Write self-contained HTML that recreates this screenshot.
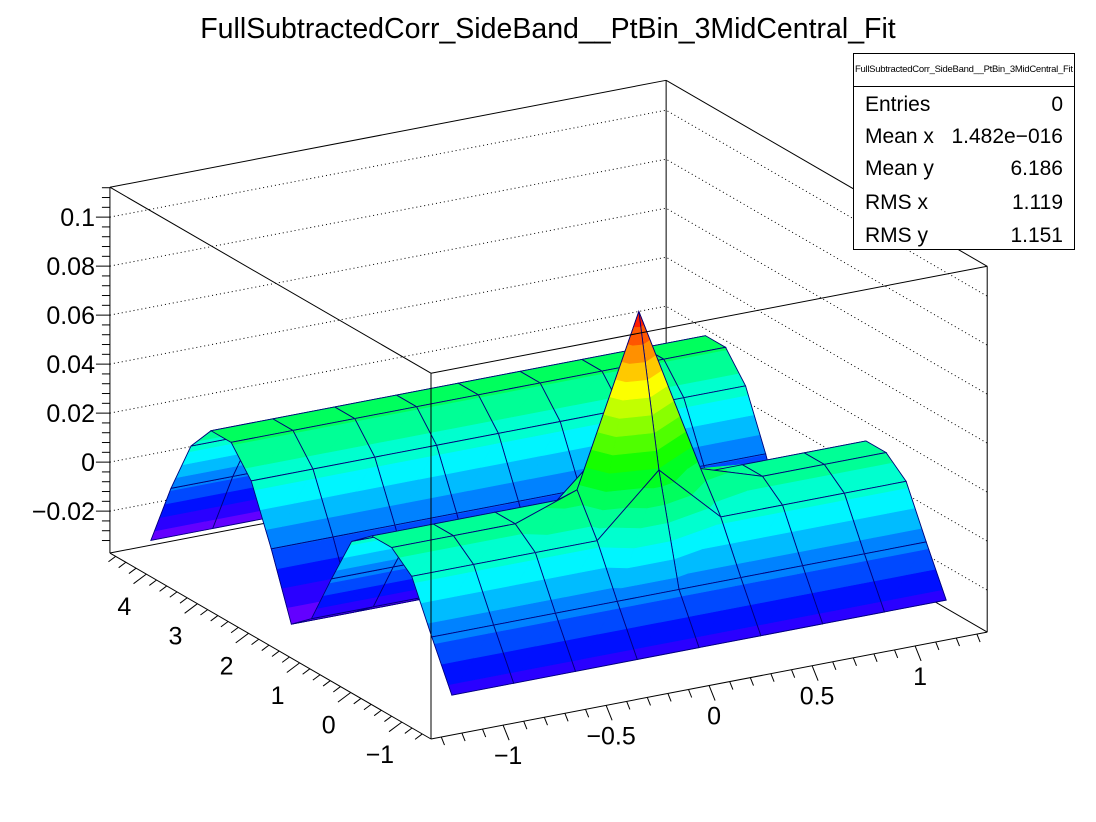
<!DOCTYPE html>
<html><head><meta charset="utf-8"><style>
html,body{margin:0;padding:0;background:#fff;}
svg{display:block;font-family:"Liberation Sans",Arial,sans-serif;}
</style></head><body>
<svg id="chart" width="1096" height="822" viewBox="0 0 1096 822" xmlns="http://www.w3.org/2000/svg">
<rect x="0" y="0" width="1096" height="822" fill="#fff"/>
<text x="548" y="38" font-size="28.5" text-anchor="middle">FullSubtractedCorr_SideBand__PtBin_3MidCentral_Fit</text>
<g id="grid"></g>
<g id="box-back"></g>
<g id="surface"></g>
<g id="box-front"></g>
<g id="axes"></g>
<g>
<rect x="853.5" y="53.5" width="221" height="196" fill="#fff" stroke="#000" stroke-width="1"/>
<line x1="853.5" y1="86.5" x2="1074.5" y2="86.5" stroke="#000"/>
<text x="964" y="72" font-size="9.5" text-anchor="middle" textLength="218">FullSubtractedCorr_SideBand__PtBin_3MidCentral_Fit</text>
<g font-size="21">
<text x="865" y="111">Entries</text>
<text x="1063" y="111" text-anchor="end">0</text>
<text x="865" y="143">Mean x</text>
<text x="1063" y="143" text-anchor="end">1.482e−016</text>
<text x="865" y="175">Mean y</text>
<text x="1063" y="175" text-anchor="end">6.186</text>
<text x="865" y="209">RMS x</text>
<text x="1063" y="209" text-anchor="end">1.119</text>
<text x="865" y="242">RMS y</text>
<text x="1063" y="242" text-anchor="end">1.151</text>
</g></g>
</svg>
<script>
const xCenters = [-1.2,-0.9,-0.6,-0.3,0,0.3,0.6,0.9,1.2];
const yCenters = [-1.374,-0.982,-0.589,-0.196,0.196,0.589,0.982,1.374,1.767,2.160,2.553,2.945,3.338,3.731,4.123,4.516];
const ridgeProfile = [-0.024,-0.005,0.015,0.022,0.022,0.015,-0.005,-0.026,-0.033,-0.007,0.016,0.027,0.027,0.016,-0.006,-0.032];
const peakCells = [[4,3,0.099],[4,2,0.039],[3,3,0.031],[5,3,0.030],[4,4,0.045]];
const xTicks = [-1,-0.5,0,0.5,1];
const xTickLabels = ["−1","−0.5","0","0.5","1"];
const yTicks = [-1,0,1,2,3,4];
const yTickLabels = ["−1","0","1","2","3","4"];
const zTicks = [-0.02,0,0.02,0.04,0.06,0.08,0.1];
const zTickLabels = ["−0.02","0","0.02","0.04","0.06","0.08","0.1"];

const XMIN=-1.35,XMAX=1.35,YMIN=-1.5708,YMAX=4.7124,ZMIN=-0.0371,ZMAX=0.1122;
const NS="http://www.w3.org/2000/svg";
function P(x,y,z){
  const a=x-XMIN,b=y-YMIN;
  return [431+a*206-b*51.1, 739-a*39.6-b*29.6-(z-ZMIN)*2450];
}
function mk(tag,attrs,parent){const e=document.createElementNS(NS,tag);for(const k in attrs)e.setAttribute(k,attrs[k]);parent.appendChild(e);return e;}

const Z = yCenters.map((y,iy)=>xCenters.map(()=>ridgeProfile[iy]));
peakCells.forEach(c=>{Z[c[1]][c[0]]=c[2];});

const gB=document.getElementById('box-back');
function seg(p,q,g){return mk('line',{x1:p[0],y1:p[1],x2:q[0],y2:q[1],stroke:'#000','stroke-width':1},g);}
const c000=P(XMIN,YMIN,ZMIN),c100=P(XMAX,YMIN,ZMIN),c010=P(XMIN,YMAX,ZMIN),c110=P(XMAX,YMAX,ZMIN);
const c001=P(XMIN,YMIN,ZMAX),c101=P(XMAX,YMIN,ZMAX),c011=P(XMIN,YMAX,ZMAX),c111=P(XMAX,YMAX,ZMAX);
let l;
l=seg(c010,c110,gB);
l=seg(c110,c100,gB);
l=seg(c110,c111,gB);
l=seg(c010,c011,gB);
l=seg(c100,c101,gB);
l=seg(c011,c111,gB);
l=seg(c111,c101,gB);
l=seg(c010,c000,gB);
l=seg(c000,c100,gB);

const gG=document.getElementById('grid');
zTicks.forEach(z=>{
  const a=P(XMIN,YMAX,z),b=P(XMAX,YMAX,z),c=P(XMAX,YMIN,z);
  const pl=mk('polyline',{points:a.join(',')+' '+b.join(',')+' '+c.join(','),fill:'none',stroke:'#000','stroke-width':1,'stroke-dasharray':'1,3'},gG);
  
  
});

const NB=20, ZLO=-0.034, ZHI=0.1;
function bandColor(k){const h=270*(1-(k+0.5)/NB);return 'hsl('+h.toFixed(1)+',100%,50%)';}
function clip(poly,lev,above){
  const out=[];
  for(let i=0;i<poly.length;i++){
    const p=poly[i],q=poly[(i+1)%poly.length];
    const pin=above?p.z>=lev:p.z<=lev, qin=above?q.z>=lev:q.z<=lev;
    if(pin)out.push(p);
    if(pin!==qin){const t=(lev-p.z)/(q.z-p.z);out.push({x:p.x+(q.x-p.x)*t,y:p.y+(q.y-p.y)*t,z:lev});}
  }
  return out;
}
const gS=document.getElementById('surface');
function V(ix,iy){const z=Z[iy][ix];const s=P(xCenters[ix],yCenters[iy],z);return {x:s[0],y:s[1],z:z};}
function drawTri(tri,g){
  for(let k=0;k<NB;k++){
    const lo=k===0?-1:ZLO+k*(ZHI-ZLO)/NB, hi=k===NB-1?1:ZLO+(k+1)*(ZHI-ZLO)/NB;
    let p=clip(tri,lo,true); if(p.length<3)continue;
    p=clip(p,hi,false); if(p.length<3)continue;
    const col=bandColor(k);
    const poly=mk('polygon',{points:p.map(v=>v.x.toFixed(2)+','+v.y.toFixed(2)).join(' '),fill:col,stroke:col,'stroke-width':0.6},g);
    
    
  }
}
for(let iy=yCenters.length-2;iy>=0;iy--){
  for(let ix=xCenters.length-2;ix>=0;ix--){
    const g=mk('g',{},gS);
    
    
    const A=V(ix,iy),B=V(ix+1,iy),C=V(ix+1,iy+1),D=V(ix,iy+1);
    drawTri([A,C,D],g);
    drawTri([A,B,C],g);
    const o=mk('polygon',{points:[A,B,C,D].map(v=>v.x.toFixed(2)+','+v.y.toFixed(2)).join(' '),fill:'none',stroke:'#00007a','stroke-width':0.9},g);
    
    
  }
}

const gF=document.getElementById('box-front');
l=seg(c000,c001,gF);
l=seg(c001,c101,gF);
l=seg(c001,c011,gF);

const gA=document.getElementById('axes');
for(let z=-0.032;z<=0.1121;z+=0.004){
  const p=P(XMIN,YMAX,z);const maj=Math.abs(Math.round(z/0.02)*0.02-z)<1e-6;
  const t=mk('line',{x1:p[0],y1:p[1],x2:p[0]-(maj?14:8),y2:p[1],stroke:'#000','stroke-width':1},gA);
  
  
}
zTicks.forEach((z,i)=>{
  const p=P(XMIN,YMAX,z);
  const t=mk('text',{x:95,y:p[1]+9,'font-size':25,'text-anchor':'end'},gA);
  t.textContent=zTickLabels[i];
  
  
});
for(let i=-13;i<=13;i++){
  const x=i*0.1;const p=P(x,YMIN,ZMIN);const maj=i%5===0;const L=maj?15:8;
  const t=mk('line',{x1:p[0],y1:p[1],x2:p[0]+L*0.4,y2:p[1]+L,stroke:'#000','stroke-width':1},gA);
  
  
}
xTicks.forEach((x,i)=>{
  const p=P(x,YMIN,ZMIN);
  const t=mk('text',{x:p[0]+5,y:p[1]+39,'font-size':25,'text-anchor':'middle'},gA);
  t.textContent=xTickLabels[i];
  
  
});
for(let i=-7;i<=23;i++){
  const y=i*0.2;if(y<YMIN||y>YMAX)continue;const p=P(XMIN,y,ZMIN);const maj=i%5===0;const L=maj?16:9;
  const t=mk('line',{x1:p[0],y1:p[1],x2:p[0]-L*0.8,y2:p[1]+L*0.6,stroke:'#000','stroke-width':1},gA);
  
  
}
yTicks.forEach((y,i)=>{
  const p=P(XMIN,y,ZMIN);
  const t=mk('text',{x:p[0]-22,y:p[1]+41,'font-size':25,'text-anchor':'middle'},gA);
  t.textContent=yTickLabels[i];
  
  
});
</script>
</body></html>
